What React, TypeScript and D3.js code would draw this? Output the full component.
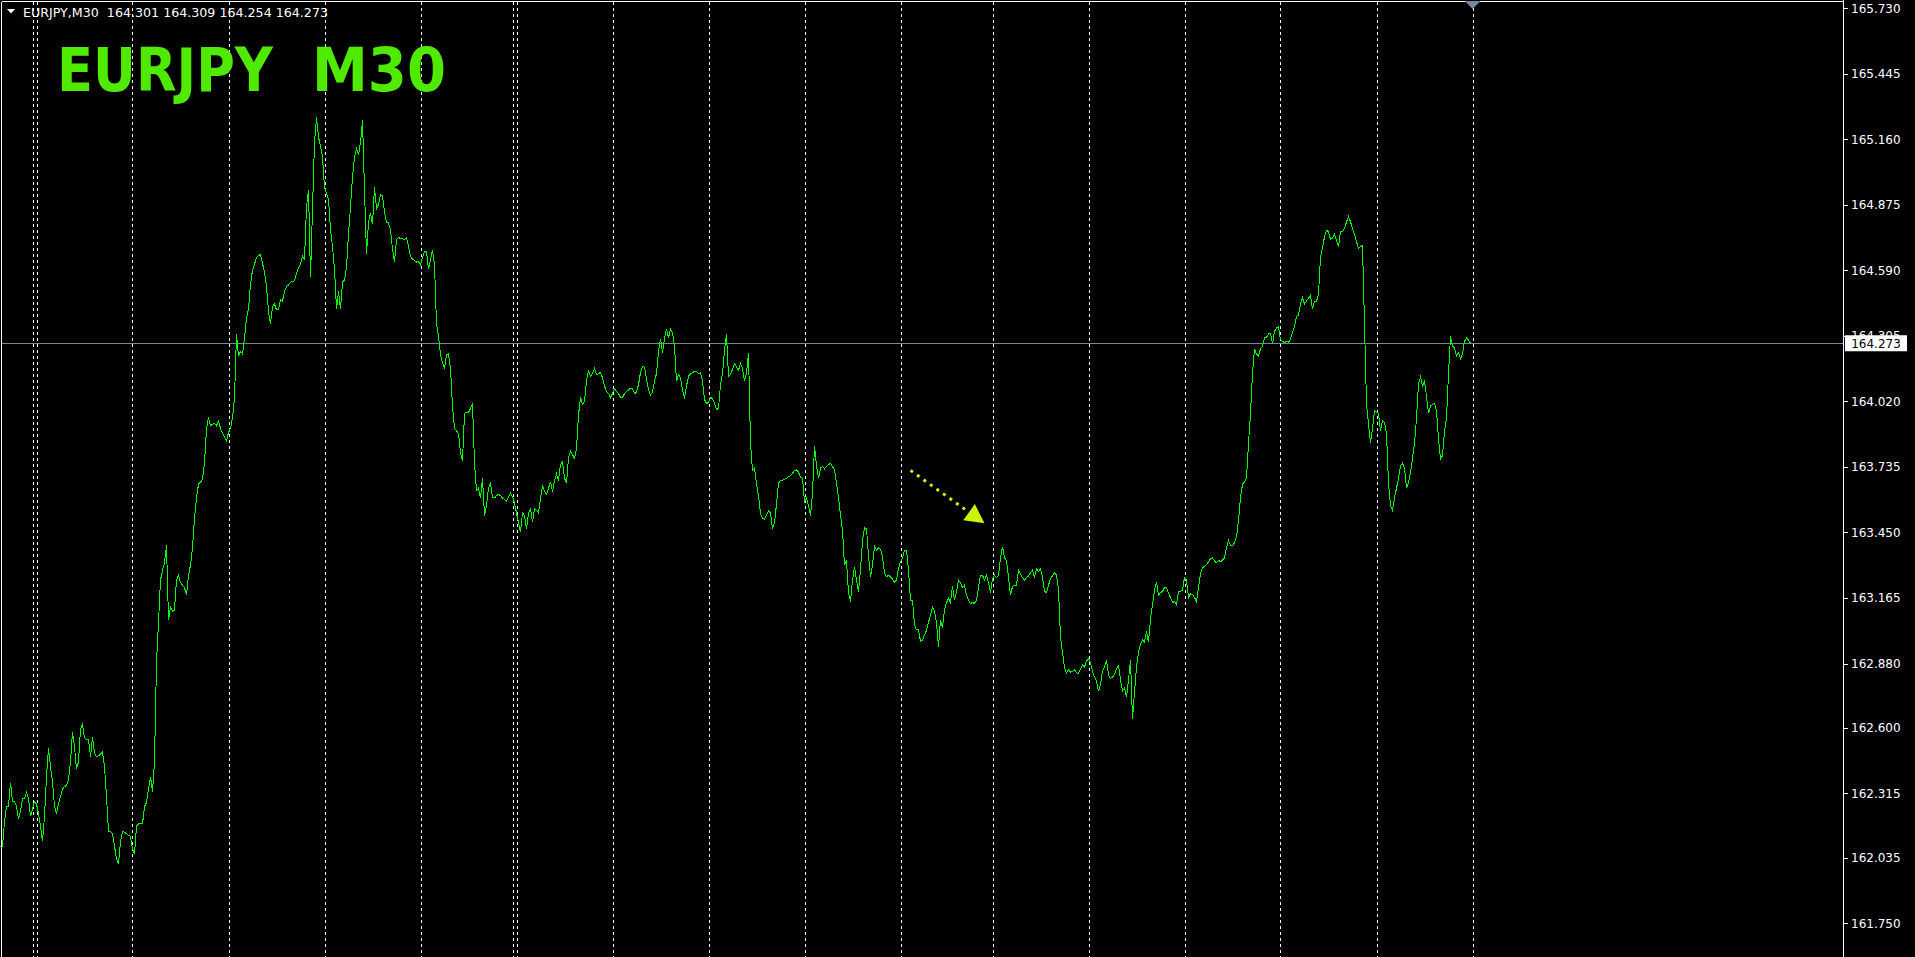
import React from 'react';
import * as d3 from 'd3';

const symbol = 'EURJPY';
const timeframe = 'M30';
const headerOHLC = ['164.301', '164.309', '164.254', '164.273'];
const lastPrice = 164.273;
const priceTicks = [165.730, 165.445, 165.160, 164.875, 164.590, 164.305, 164.020, 163.735, 163.450, 163.165, 162.880, 162.600, 162.315, 162.035, 161.750];
const priceDomain = [161.750, 165.730];
const totalBars = 736;
const separatorBars = [16, 18, 66, 114, 162, 210, 256, 258, 306, 354, 402, 450, 496, 544, 592, 640, 688, 736];

// [bar index, close]
const seg1: [number, number][] = [
  [0,162.086],[1,162.085],[2,162.193],[3,162.258],[4,162.258],[5,162.362],[6,162.280],[7,162.280],[8,162.258],[9,162.204],[10,162.236],[11,162.291],[12,162.291],[13,162.319],[14,162.291],[15,162.215],[16,162.247],[17,162.280],[18,162.269],[19,162.226],[20,162.172],[21,162.107],[22,162.215],[23,162.388],[24,162.514],[25,162.431],[26,162.366],[27,162.258],[28,162.226],[29,162.269],[30,162.301],[31,162.334],[32,162.345],[33,162.349],[34,162.377],[35,162.453],[36,162.583],[37,162.518],[38,162.420],[39,162.453],[40,162.594],[41,162.615],[42,162.557],[43,162.550],[44,162.550],[45,162.475],[46,162.561],[47,162.492],[48,162.475],[49,162.479],[50,162.485],[51,162.496],[52,162.431],[53,162.301],[54,162.150],[55,162.150],[56,162.139],[57,162.085],[58,162.031],[59,162.009],[60,162.107],[61,162.150],[62,162.146],[63,162.139],[64,162.133],[65,162.128],[66,162.074],[67,162.053],[68,162.172],[69,162.182],[70,162.182],[71,162.182],[72,162.258],[73,162.275],[74,162.334],[75,162.388],[76,162.323],[77,162.453],[78,162.886],[79,163.059],[80,163.243],[81,163.286],[82,163.318],[83,163.394],[84,163.070],[85,163.124],[86,163.107],[87,163.113],[88,163.243],[89,163.264],[90,163.232],[91,163.221],[92,163.210],[93,163.178],[94,163.264],[95,163.308],[96,163.383],[97,163.513],[98,163.600],[99,163.660],[100,163.669],[101,163.682],[102,163.751],[103,163.903],[104,163.950],[105,163.914],[106,163.920],[107,163.924],[108,163.914],[109,163.935],[110,163.903],[111,163.881],[112,163.864],[113,163.849],[114,163.885],[115,163.903],[116,163.950],[117,164.033],[118,164.314],[119,164.217],[120,164.238],[121,164.227],
];
const seg2: [number, number][] = [
  [122,164.297],[123,164.379],[124,164.422],[125,164.530],[126,164.591],[127,164.617],[128,164.645],[129,164.654],[130,164.660],[131,164.621],[132,164.582],[133,164.520],[134,164.411],[135,164.357],[136,164.433],[137,164.444],[138,164.418],[139,164.422],[140,164.461],[141,164.457],[142,164.498],[143,164.520],[144,164.526],[145,164.539],[146,164.541],[147,164.545],[148,164.578],[149,164.602],[150,164.617],[151,164.651],[152,164.638],[153,164.866],[154,164.941],[155,164.563],[156,164.855],[157,165.147],[158,165.255],[159,165.169],[160,165.132],[161,165.082],[162,164.952],[163,164.926],[164,164.898],[165,164.768],[166,164.693],[167,164.595],[168,164.422],[169,164.498],[170,164.422],[171,164.539],[172,164.548],[173,164.606],[174,164.747],[175,164.866],[176,164.996],[177,165.082],[178,165.119],[179,165.093],[180,165.147],[181,165.244],[182,164.941],[183,164.660],[184,164.801],[185,164.838],[186,164.790],[187,164.952],[188,164.859],[189,164.877],[190,164.920],[191,164.913],[192,164.844],[193,164.799],[194,164.796],[195,164.768],[196,164.682],[197,164.628],[198,164.725],[199,164.734],[200,164.727],[201,164.727],[202,164.725],[203,164.734],[204,164.693],[205,164.651],[206,164.638],[207,164.634],[208,164.626],[209,164.628],[210,164.613],[211,164.647],[212,164.671],[213,164.671],[214,164.595],[215,164.638],[216,164.678],[217,164.617],[218,164.357],[219,164.303],[220,164.223],[221,164.188],[222,164.163],[223,164.223],[224,164.227],[225,164.163],[226,164.000],[227,163.903],[228,163.892],[229,163.881],[230,163.795],[231,163.762],[232,163.968],[233,163.972],[234,163.972],[235,163.989],[236,164.011],[237,163.751],[238,163.632],[239,163.643],[240,163.600],[241,163.686],[242,163.524],[243,163.567],[244,163.643],
];
const seg3: [number, number][] = [
  [245,163.665],[246,163.600],[247,163.600],[248,163.611],[249,163.615],[250,163.611],[251,163.600],[252,163.593],[253,163.587],[254,163.606],[255,163.621],[256,163.606],[257,163.578],[258,163.535],[259,163.492],[260,163.453],[261,163.535],[262,163.524],[263,163.466],[264,163.535],[265,163.552],[266,163.496],[267,163.552],[268,163.546],[269,163.535],[270,163.600],[271,163.654],[272,163.628],[273,163.615],[274,163.643],[275,163.671],[276,163.628],[277,163.676],[278,163.704],[279,163.676],[280,163.745],[281,163.758],[282,163.686],[283,163.665],[284,163.773],[285,163.805],[286,163.788],[287,163.773],[288,163.816],[289,163.961],[290,164.037],[291,164.007],[292,164.022],[293,164.108],[294,164.156],[295,164.128],[296,164.141],[297,164.163],[298,164.137],[299,164.141],[300,164.147],[301,164.123],[302,164.087],[303,164.063],[304,164.056],[305,164.037],[306,164.054],[307,164.076],[308,164.063],[309,164.054],[310,164.037],[311,164.037],[312,164.054],[313,164.065],[314,164.069],[315,164.078],[316,164.076],[317,164.054],[318,164.059],[319,164.093],[320,164.145],[321,164.173],[322,164.169],[323,164.119],[324,164.069],[325,164.048],[326,164.061],[327,164.108],[328,164.141],[329,164.238],[330,164.292],[331,164.232],[332,164.292],[333,164.336],[334,164.297],[335,164.336],[336,164.318],[337,164.260],[338,164.108],[339,164.137],[340,164.123],[341,164.072],[342,164.033],[343,164.087],[344,164.130],[345,164.139],[346,164.145],[347,164.152],[348,164.152],[349,164.141],[350,164.145],[351,164.108],[352,164.028],[353,164.011],[354,164.015],[355,164.037],[356,164.033],[357,164.011],[358,163.985],[359,163.989],[360,164.093],[361,164.141],[362,164.243],[363,164.314],[364,164.130],[365,164.137],[366,164.160],
];
const seg4: [number, number][] = [
  [367,164.184],[368,164.169],[369,164.156],[370,164.184],[371,164.163],[372,164.108],[373,164.145],[374,164.232],[375,163.838],[376,163.719],[377,163.730],[378,163.660],[379,163.611],[380,163.531],[381,163.513],[382,163.507],[383,163.526],[384,163.544],[385,163.535],[386,163.466],[387,163.492],[388,163.574],[389,163.665],[390,163.676],[391,163.676],[392,163.682],[393,163.686],[394,163.693],[395,163.697],[396,163.708],[397,163.719],[398,163.723],[399,163.712],[400,163.691],[401,163.686],[402,163.582],[403,163.600],[404,163.567],[405,163.524],[406,163.621],[407,163.827],[408,163.741],[409,163.686],[410,163.730],[411,163.736],[412,163.727],[413,163.738],[414,163.745],[415,163.751],[416,163.734],[417,163.725],[418,163.665],[419,163.600],[420,163.524],[421,163.459],[422,163.308],[423,163.329],[424,163.189],[425,163.150],[426,163.243],[427,163.301],[428,163.243],[429,163.193],[430,163.286],[431,163.416],[432,163.470],[433,163.466],[434,163.351],[435,163.258],[436,163.308],[437,163.390],[438,163.373],[439,163.383],[440,163.377],[441,163.344],[442,163.275],[443,163.258],[444,163.264],[445,163.256],[446,163.247],[447,163.234],[448,163.243],[449,163.293],[450,163.323],[451,163.340],[452,163.373],[453,163.373],[454,163.286],[455,163.156],[456,163.156],[457,163.048],[458,163.026],[459,163.026],[460,162.977],[461,162.981],[462,163.005],[463,163.024],[464,163.059],[465,163.091],[466,163.124],[467,163.107],[468,163.059],[469,162.951],[470,163.070],[471,163.037],[472,163.113],[473,163.145],[474,163.163],[475,163.145],[476,163.215],[477,163.156],[478,163.193],[479,163.243],[480,163.232],[481,163.210],[482,163.221],[483,163.178],[484,163.156],[485,163.141],[486,163.145],[487,163.141],[488,163.156],[489,163.210],
];
const seg5: [number, number][] = [
  [490,163.264],[491,163.264],[492,163.243],[493,163.264],[494,163.232],[495,163.189],[496,163.249],[497,163.264],[498,163.254],[499,163.264],[500,163.340],[501,163.388],[502,163.340],[503,163.327],[504,163.254],[505,163.178],[506,163.215],[507,163.221],[508,163.221],[509,163.286],[510,163.269],[511,163.254],[512,163.243],[513,163.254],[514,163.260],[515,163.275],[516,163.286],[517,163.254],[518,163.293],[519,163.280],[520,163.293],[521,163.254],[522,163.193],[523,163.189],[524,163.221],[525,163.249],[526,163.262],[527,163.275],[528,163.264],[529,163.200],[530,162.994],[531,162.929],[532,162.864],[533,162.838],[534,162.853],[535,162.842],[536,162.845],[537,162.853],[538,162.840],[539,162.836],[540,162.858],[541,162.873],[542,162.864],[543,162.892],[544,162.899],[545,162.881],[546,162.847],[547,162.821],[548,162.803],[549,162.760],[550,162.788],[551,162.847],[552,162.864],[553,162.896],[554,162.832],[555,162.814],[556,162.821],[557,162.832],[558,162.858],[559,162.871],[560,162.810],[561,162.760],[562,162.773],[563,162.734],[564,162.810],[565,162.896],[566,162.637],[567,162.756],[568,162.864],[569,162.929],[570,162.966],[571,162.983],[572,162.972],[573,163.020],[574,162.972],[575,163.074],[576,163.135],[577,163.200],[578,163.236],[579,163.178],[580,163.189],[581,163.193],[582,163.210],[583,163.210],[584,163.187],[585,163.167],[586,163.145],[587,163.150],[588,163.135],[589,163.193],[590,163.193],[591,163.200],[592,163.254],[593,163.243],[594,163.167],[595,163.184],[596,163.180],[597,163.167],[598,163.150],[599,163.210],[600,163.271],[601,163.297],[602,163.303],[603,163.310],[604,163.323],[605,163.336],[606,163.340],[607,163.325],[608,163.318],[609,163.329],[610,163.323],[611,163.329],
];
const seg6: [number, number][] = [
  [612,163.340],[613,163.383],[614,163.416],[615,163.394],[616,163.392],[617,163.405],[618,163.431],[619,163.502],[620,163.600],[621,163.660],[622,163.669],[623,163.686],[624,163.838],[625,163.968],[626,164.141],[627,164.249],[628,164.227],[629,164.217],[630,164.249],[631,164.260],[632,164.297],[633,164.299],[634,164.314],[635,164.314],[636,164.271],[637,164.325],[638,164.340],[639,164.346],[640,164.288],[641,164.281],[642,164.275],[643,164.281],[644,164.277],[645,164.292],[646,164.320],[647,164.346],[648,164.390],[649,164.394],[650,164.444],[651,164.470],[652,164.444],[653,164.457],[654,164.468],[655,164.483],[656,164.422],[657,164.455],[658,164.455],[659,164.487],[660,164.649],[661,164.686],[662,164.736],[663,164.764],[664,164.758],[665,164.725],[666,164.729],[667,164.747],[668,164.721],[669,164.693],[670,164.758],[671,164.758],[672,164.773],[673,164.801],[674,164.825],[675,164.801],[676,164.773],[677,164.747],[678,164.714],[679,164.686],[680,164.693],[681,164.699],[682,164.357],[683,164.011],[684,163.924],[685,163.838],[686,163.903],[687,163.979],[688,163.972],[689,163.968],[690,163.892],[691,163.935],[692,163.929],[693,163.881],[694,163.665],[695,163.567],[696,163.546],[697,163.600],[698,163.643],[699,163.686],[700,163.740],[701,163.751],[702,163.730],[703,163.643],[704,163.665],[705,163.712],[706,163.773],[707,163.838],[708,163.946],[709,164.098],[710,164.126],[711,164.087],[712,164.108],[713,164.043],[714,163.968],[715,164.000],[716,164.007],[717,164.011],[718,163.979],[719,163.859],[720,163.769],[721,163.784],[722,163.892],[723,163.946],[724,164.141],[725,164.303],[726,164.260],[727,164.253],[728,164.217],[729,164.232],[730,164.206],[731,164.227],[732,164.281],[733,164.297],[734,164.288],[735,164.273],
];

// arrow annotation in data coordinates: [bar, price]
const arrowFrom: [number, number] = [455, 163.72];
const arrowTo: [number, number] = [492, 163.49];

const W = 1915;
const H = 957;
const AXIS_X = 1843.5;

export default function App() {
  const series = [...seg1, ...seg2, ...seg3, ...seg4, ...seg5, ...seg6];
  const x = d3.scaleLinear().domain([0, totalBars]).range([0.5, 1472.5]);
  const y = d3.scaleLinear().domain(priceDomain).range([923.3, 8.3]);
  const line = d3.line<[number, number]>().x(d => x(d[0])).y(d => y(d[1]));

  const ax0 = x(arrowFrom[0]), ay0 = y(arrowFrom[1]);
  const ax1 = x(arrowTo[0]), ay1 = y(arrowTo[1]);
  const len = Math.hypot(ax1 - ax0, ay1 - ay0);
  const ux = (ax1 - ax0) / len, uy = (ay1 - ay0) / len;
  const headL = 19, headW = 10;
  const bx = ax1 - ux * headL, by = ay1 - uy * headL;
  const head = `${ax1},${ay1} ${bx - uy * headW},${by + ux * headW} ${bx + uy * headW},${by - ux * headW}`;

  const lastY = y(lastPrice);
  const shiftX = x(totalBars);
  const font = '"DejaVu Sans", Verdana, sans-serif';

  return (
    <div style={{ position: 'absolute', left: 0, top: 0 }}>
      <svg width={W} height={H} style={{ display: 'block', background: '#000' }}>
        <rect x={0} y={0} width={W} height={H} fill="#000" />
        {separatorBars.map((b, i) => (
          <line key={i} x1={Math.round(x(b)) + 0.5} x2={Math.round(x(b)) + 0.5} y1={2} y2={H}
            stroke="#ffffff" strokeWidth={1} strokeDasharray="3 3" shapeRendering="crispEdges" />
        ))}
        <line x1={1.5} x2={AXIS_X} y1={Math.round(lastY) + 0.5} y2={Math.round(lastY) + 0.5}
          stroke="#778899" strokeWidth={1} shapeRendering="crispEdges" />
        <path d={line(series) || ''} fill="none" stroke="#00ff00" strokeWidth={1} shapeRendering="crispEdges" />
        <line x1={ax0} y1={ay0} x2={bx} y2={by} stroke="#c8f500" strokeWidth={3} strokeDasharray="3 5" />
        <polygon points={head} fill="#c8f500" />
        {/* frame */}
        <line x1={1.5} x2={AXIS_X} y1={1.5} y2={1.5} stroke="#fff" strokeWidth={1} shapeRendering="crispEdges" />
        <line x1={1.5} x2={1.5} y1={1.5} y2={H} stroke="#fff" strokeWidth={1} shapeRendering="crispEdges" />
        <line x1={AXIS_X} x2={AXIS_X} y1={0} y2={H} stroke="#fff" strokeWidth={1} shapeRendering="crispEdges" />
        {/* shift marker */}
        <polygon points={`${shiftX - 7.5},1 ${shiftX + 8},1 ${shiftX},9`} fill="#778899" />
        {/* header */}
        <polygon points="7,9 15,9 11,13.5" fill="#fff" />
        <text x={23} y={17} fill="#fff" fontFamily={font} fontSize={12.5} textLength={305} lengthAdjust="spacingAndGlyphs"
          style={{ whiteSpace: 'pre' }}>
          {`${symbol},${timeframe}  ${headerOHLC.join(' ')}`}
        </text>
        {/* title */}
        <text x={57} y={91} fill="#50ea00" fontFamily={font} fontWeight="bold" fontSize={60}
          textLength={216} lengthAdjust="spacingAndGlyphs">{symbol}</text>
        <text x={312} y={91} fill="#50ea00" fontFamily={font} fontWeight="bold" fontSize={60}
          textLength={134} lengthAdjust="spacingAndGlyphs">{timeframe}</text>
        {/* price axis */}
        {priceTicks.map((v, i) => (
          <g key={i}>
            <line x1={AXIS_X} x2={AXIS_X + 4} y1={Math.round(y(v)) + 0.5} y2={Math.round(y(v)) + 0.5}
              stroke="#fff" strokeWidth={1} shapeRendering="crispEdges" />
            <text x={1851} y={y(v)} dy="0.36em" fill="#fff" fontFamily={font} fontSize={12}>{v.toFixed(3)}</text>
          </g>
        ))}
        <rect x={1845} y={lastY - 8} width={62} height={16} fill="#fff" />
        <text x={1876} y={lastY} dy="0.36em" textAnchor="middle" fill="#000" fontFamily={font} fontSize={12}>
          {lastPrice.toFixed(3)}
        </text>
      </svg>
    </div>
  );
}
